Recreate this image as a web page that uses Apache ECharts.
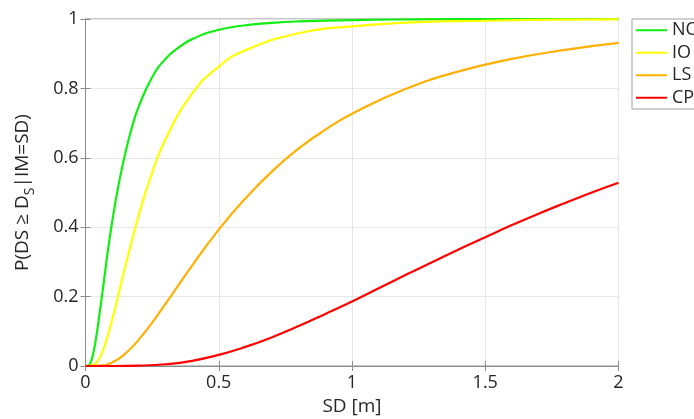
<!DOCTYPE html>
<html>
<head>
<meta charset="utf-8">
<script src="https://cdn.jsdelivr.net/npm/echarts@6/dist/echarts.min.js"></script>
<style>
    html, body {margin: 0; padding: 0; background: #fff;}
    #chart {width: 694px; height: 419px;}
</style>
</head>
<body>
<div id="chart"></div>
<script>
    // fragility curves, values
    var xNO = [0, 0.01, 0.02, 0.03, 0.04, 0.05, 0.06, 0.07, 0.08, 0.09, 0.10, 0.11, 0.12, 0.13, 0.15, 0.175, 0.2, 0.25, 0.3, 0.35, 0.4, 0.5, 0.6, 0.7, 0.8, 1.0, 1.25, 1.5, 2.0];
    var pNO = [0, 0.001, 0.012, 0.04, 0.082, 0.135, 0.192, 0.25, 0.31, 0.365, 0.415, 0.462, 0.505, 0.545, 0.615, 0.69, 0.748, 0.832, 0.885, 0.918, 0.942, 0.969, 0.982, 0.989, 0.993, 0.997, 0.999, 1.0, 1.0];

    var xIO = [0, 0.02, 0.04, 0.06, 0.08, 0.1, 0.12, 0.15, 0.2, 0.25, 0.3, 0.4, 0.5, 0.6, 0.8, 1.0, 1.25, 1.5, 1.75, 2.0];
    var pIO = [0, 0.001, 0.009, 0.035, 0.078, 0.133, 0.195, 0.289, 0.436, 0.557, 0.653, 0.785, 0.863, 0.910, 0.959, 0.979, 0.991, 0.995, 0.998, 0.999];

    var xLS = [0, 0.05, 0.1, 0.15, 0.2, 0.25, 0.3, 0.4, 0.5, 0.6, 0.7, 0.8, 0.9, 1.0, 1.2, 1.4, 1.6, 1.8, 2.0];
    var pLS = [0, 0.001, 0.010, 0.036, 0.076, 0.125, 0.179, 0.289, 0.393, 0.483, 0.561, 0.627, 0.681, 0.727, 0.798, 0.849, 0.885, 0.911, 0.931];

    var xCP = [0, 0.1, 0.2, 0.3, 0.4, 0.5, 0.6, 0.7, 0.8, 0.9, 1.0, 1.1, 1.2, 1.3, 1.4, 1.5, 1.6, 1.7, 1.8, 1.9, 2.0];
    var pCP = [0, 0, 0.001, 0.005, 0.015, 0.032, 0.055, 0.083, 0.115, 0.150, 0.186, 0.224, 0.262, 0.299, 0.336, 0.371, 0.406, 0.439, 0.470, 0.500, 0.528];

    var names = ['NO', 'IO', 'LS', 'CP'];
    var colors = ['#11ee11', '#ffff00', '#ffb000', '#ff0000'];

    function pairs(xs, ys) {
        var out = [];
        for (var i = 0; i < xs.length; i++) out.push([xs[i], ys[i]]);
        return out;
    }

    var font = 'Open Sans';
    var axisGray = '#8c8c8c';
    var textColor = '#262626';
    var gridColor = '#e6e6e6';

    var chart = echarts.init(document.getElementById('chart'));
    var curves = [pairs(xNO, pNO), pairs(xIO, pIO), pairs(xLS, pLS), pairs(xCP, pCP)];

    chart.setOption({
        animation: false,
        textStyle: {fontFamily: font},
        grid: {
            left: 85.5, right: 75.5, top: 19, bottom: 53,
            outerBoundsMode: 'none', containLabel: false,
            show: true, borderColor: axisGray, borderWidth: 1
        },
        legend: {
            data: names,
            orient: 'vertical',
            left: 632, top: 19,
            padding: [0, 40, 0, 4],
            icon: 'rect',
            itemWidth: 31, itemHeight: 2, itemGap: 0,
            borderColor: '#a0a0a0', borderWidth: 1,
            textStyle: {fontSize: 18, lineHeight: 22.5, color: textColor, fontFamily: font}
        },
        xAxis: [{
            type: 'value', min: 0, max: 2, interval: 0.5,
            name: 'SD [m]', nameLocation: 'middle', nameGap: 29,
            nameTextStyle: {fontSize: 19, color: textColor},
            axisLine: {lineStyle: {color: axisGray}},
            axisTick: {inside: true, length: 5, lineStyle: {color: axisGray}},
            axisLabel: {fontSize: 18, color: textColor, margin: 8},
            splitLine: {lineStyle: {color: gridColor}}
        }, {
            // mirrored ticks on top (box on)
            type: 'value', position: 'top', min: 0, max: 2, interval: 0.5,
            axisLine: {lineStyle: {color: axisGray}},
            axisTick: {inside: true, length: 5, lineStyle: {color: axisGray}},
            axisLabel: {show: false}, splitLine: {show: false}
        }],
        yAxis: [{
            type: 'value', min: 0, max: 1, interval: 0.2,
            name: '{m|P(DS \u2265 D}{s|S}{m||IM=SD)}', nameLocation: 'middle', nameGap: 48,
            nameTextStyle: {
                color: textColor,
                rich: {
                    m: {fontSize: 19, color: textColor, fontFamily: font, lineHeight: 30},
                    s: {fontSize: 14, color: textColor, fontFamily: font, lineHeight: 30, padding: [16, 0, 0, 0]}
                }
            },
            axisLine: {lineStyle: {color: axisGray}},
            axisTick: {inside: true, length: 5, lineStyle: {color: axisGray}},
            axisLabel: {fontSize: 18, color: textColor, margin: 7, formatter: function (v) { return String(+v.toFixed(1)); }},
            splitLine: {lineStyle: {color: gridColor}}
        }, {
            type: 'value', position: 'right', min: 0, max: 1, interval: 0.2,
            axisLine: {lineStyle: {color: axisGray}},
            axisTick: {inside: true, length: 5, lineStyle: {color: axisGray}},
            axisLabel: {show: false}, splitLine: {show: false}
        }],
        series: names.map(function (n, i) {
            return {
                name: n, type: 'line', data: curves[i],
                symbol: 'none', smooth: true,
                lineStyle: {color: colors[i], width: 2.2},
                itemStyle: {color: colors[i]},
                z: 2 + i
            };
        })
    });
</script>
</body>
</html>
